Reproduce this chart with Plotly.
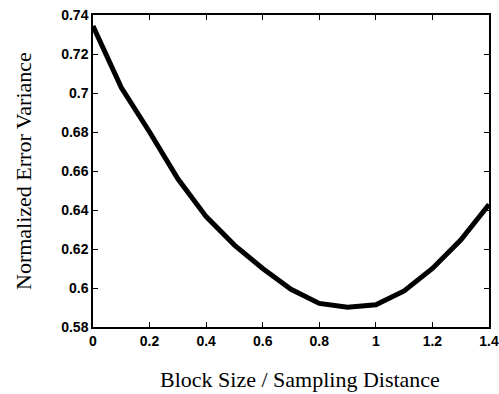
import plotly.graph_objects as go

block_ratio = [0.0, 0.1, 0.2, 0.3, 0.4, 0.5, 0.6, 0.7, 0.8, 0.9, 1.0, 1.1, 1.2, 1.3, 1.4]
error_variance = [0.7344, 0.7028, 0.680, 0.656, 0.6366, 0.622, 0.610, 0.5993, 0.5921,
                  0.5901, 0.5914, 0.5985, 0.610, 0.6246, 0.6428]

x_ticks = [0, 0.2, 0.4, 0.6, 0.8, 1.0, 1.2, 1.4]
x_tick_labels = ["0", "0.2", "0.4", "0.6", "0.8", "1", "1.2", "1.4"]
y_ticks = [0.58, 0.60, 0.62, 0.64, 0.66, 0.68, 0.70, 0.72, 0.74]
y_tick_labels = ["0.58", "0.6", "0.62", "0.64", "0.66", "0.68", "0.7", "0.72", "0.74"]

fig = go.Figure()
fig.add_trace(go.Scatter(x=block_ratio, y=error_variance, mode="lines",
                         line=dict(color="black", width=5), showlegend=False))

tickfont = dict(family="Liberation Sans, Arial", size=14, color="black", weight="bold")
axis_common = dict(showgrid=False, zeroline=False, showline=True, linecolor="black",
                   linewidth=1.5, mirror="ticks", ticks="inside", ticklen=5,
                   tickcolor="black", tickwidth=1, tickfont=tickfont, automargin=False)

fig.update_xaxes(range=[0, 1.4], tickvals=x_ticks, ticktext=x_tick_labels, **axis_common)
fig.update_yaxes(range=[0.58, 0.74], tickvals=y_ticks, ticktext=y_tick_labels, **axis_common)

fig.add_annotation(text="Block Size / Sampling Distance", xref="paper", yref="paper",
                   x=0.5, y=0, xanchor="center", yanchor="top", xshift=9, yshift=-38,
                   showarrow=False,
                   font=dict(family="Liberation Serif, Times New Roman", size=22, color="black"))
fig.add_annotation(text="Normalized Error Variance", xref="paper", yref="paper",
                   x=0, y=0.5, xanchor="center", yanchor="middle", xshift=-70, textangle=-90,
                   showarrow=False,
                   font=dict(family="Liberation Serif, Times New Roman", size=22, color="black"))

fig.update_layout(width=499, height=394, margin=dict(l=93, r=10, t=15, b=67),
                  paper_bgcolor="white", plot_bgcolor="white")
fig.write_html("out.html", config={"displayModeBar": False},
               post_script="document.body.style.margin='0';")
